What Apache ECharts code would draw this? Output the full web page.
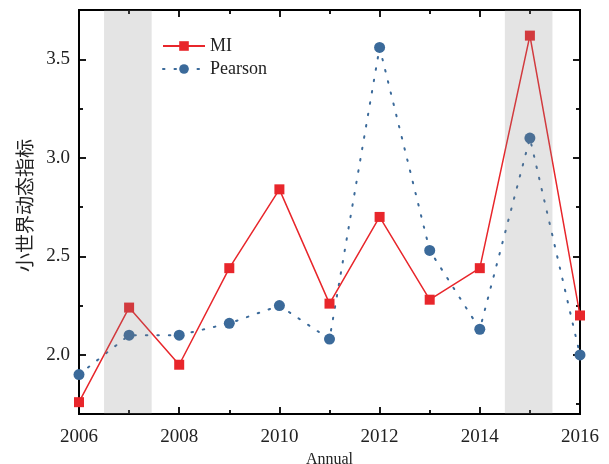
<!DOCTYPE html>
<html>
<head>
<meta charset="utf-8">
<script src="https://cdn.jsdelivr.net/npm/echarts@6/dist/echarts.min.js"></script>
<style>
  html, body { margin: 0; padding: 0; background: #fff; }
  #chart { width: 609px; height: 464px; }
</style>
</head>
<body>
<div id="chart"></div>
<script>
// Years on the x axis
const years = [2006, 2007, 2008, 2009, 2010, 2011, 2012, 2013, 2014, 2015, 2016];
// Small-world dynamic index per year
const miValues = [1.76, 2.24, 1.95, 2.44, 2.84, 2.26, 2.70, 2.28, 2.44, 3.62, 2.20];
const pearsonValues = [1.90, 2.10, 2.10, 2.16, 2.25, 2.08, 3.56, 2.53, 2.13, 3.10, 2.00];
// Shaded periods
const bands = [[2006.5, 2007.45], [2014.5, 2015.45]];
// Tick values
const xMajorTicks = [2006, 2008, 2010, 2012, 2014, 2016];
const xMinorTicks = [2007, 2009, 2011, 2013, 2015];
const yMajorTicks = [2.0, 2.5, 3.0, 3.5];
const yMinorTicks = [1.75, 2.25, 2.75, 3.25];

const serif = '"Liberation Serif", "DejaVu Serif", serif';
const axisLineStyle = { color: '#000', width: 1.8 };

function mkX(pos, showLabels, ticks, len, name) {
  return {
    type: 'value', position: pos, min: 2006, max: 2016,
    gridIndex: 0,
    name: name || '', nameLocation: 'middle', nameGap: 34,
    nameTextStyle: { fontFamily: serif, fontSize: 16, color: '#222' },
    axisLine: { show: true, onZero: false, lineStyle: axisLineStyle },
    axisTick: { show: true, inside: true, length: len, lineStyle: { color: '#000', width: 1.8 }, customValues: ticks },
    axisLabel: { show: showLabels, fontFamily: serif, fontSize: 19, color: '#222', margin: 14,
      customValues: xMajorTicks, formatter: v => String(v) },
    splitLine: { show: false }
  };
}
function mkY(pos, showLabels, ticks, len, name) {
  return {
    type: 'value', position: pos, min: 1.7, max: 3.75,
    gridIndex: 0,
    name: name || '', nameLocation: 'middle', nameGap: 45, nameRotate: 90,
    nameTextStyle: { fontFamily: '"Noto Sans CJK SC", sans-serif', fontSize: 19, color: '#222', padding: [0, 0, 0, 13] },
    axisLine: { show: true, onZero: false, lineStyle: axisLineStyle },
    axisTick: { show: true, inside: true, length: len, lineStyle: { color: '#000', width: 1.8 }, customValues: ticks },
    axisLabel: { show: showLabels, fontFamily: serif, fontSize: 19, color: '#222', margin: 9,
      customValues: yMajorTicks, formatter: v => v.toFixed(1) },
    splitLine: { show: false }
  };
}

const chart = echarts.init(document.getElementById('chart'), null, { renderer: 'canvas' });
chart.setOption({
  animation: false,
  backgroundColor: '#fff',
  grid: { left: 79, right: 29, top: 10, bottom: 50, containLabel: false, outerBoundsMode: 'none' },
  xAxis: [
    mkX('bottom', true, xMajorTicks, 7, 'Annual'),
    mkX('bottom', false, xMinorTicks, 4),
    mkX('top', false, xMajorTicks, 7),
    mkX('top', false, xMinorTicks, 4)
  ],
  yAxis: [
    mkY('left', true, yMajorTicks, 7, '小世界动态指标'),
    mkY('left', false, yMinorTicks, 4),
    mkY('right', false, yMajorTicks, 7),
    mkY('right', false, yMinorTicks, 4)
  ],
  legend: {
    orient: 'vertical', left: 157, top: 32, itemGap: 5,
    itemWidth: 42, itemHeight: 12,
    textStyle: { fontFamily: serif, fontSize: 18, color: '#222' },
    data: ['MI', 'Pearson']
  },
  series: [
    {
      name: 'MI', type: 'line', xAxisIndex: 0, yAxisIndex: 0,
      data: years.map((y, i) => [y, miValues[i]]),
      symbol: 'rect', symbolSize: 10,
      itemStyle: { color: '#e8262b' },
      lineStyle: { color: '#e8262b', width: 1.5 },
      z: 3
    },
    {
      name: 'Pearson', type: 'line', xAxisIndex: 0, yAxisIndex: 0,
      data: years.map((y, i) => [y, pearsonValues[i]]),
      symbol: 'circle', symbolSize: 11,
      itemStyle: { color: '#3b6a9a' },
      lineStyle: { color: '#3b6a9a', width: 2, type: [1.5, 10], cap: 'round' },
      z: 2
    },
    {
      name: 'bands', type: 'line', xAxisIndex: 0, yAxisIndex: 0,
      data: [], silent: true, z: 10, zlevel: 1,
      markArea: {
        silent: true, z: 10,
        itemStyle: { color: 'rgba(131,131,131,0.22)' },
        data: bands.map(b => [{ xAxis: b[0] }, { xAxis: b[1] }])
      }
    }
  ]
});
</script>
</body>
</html>
